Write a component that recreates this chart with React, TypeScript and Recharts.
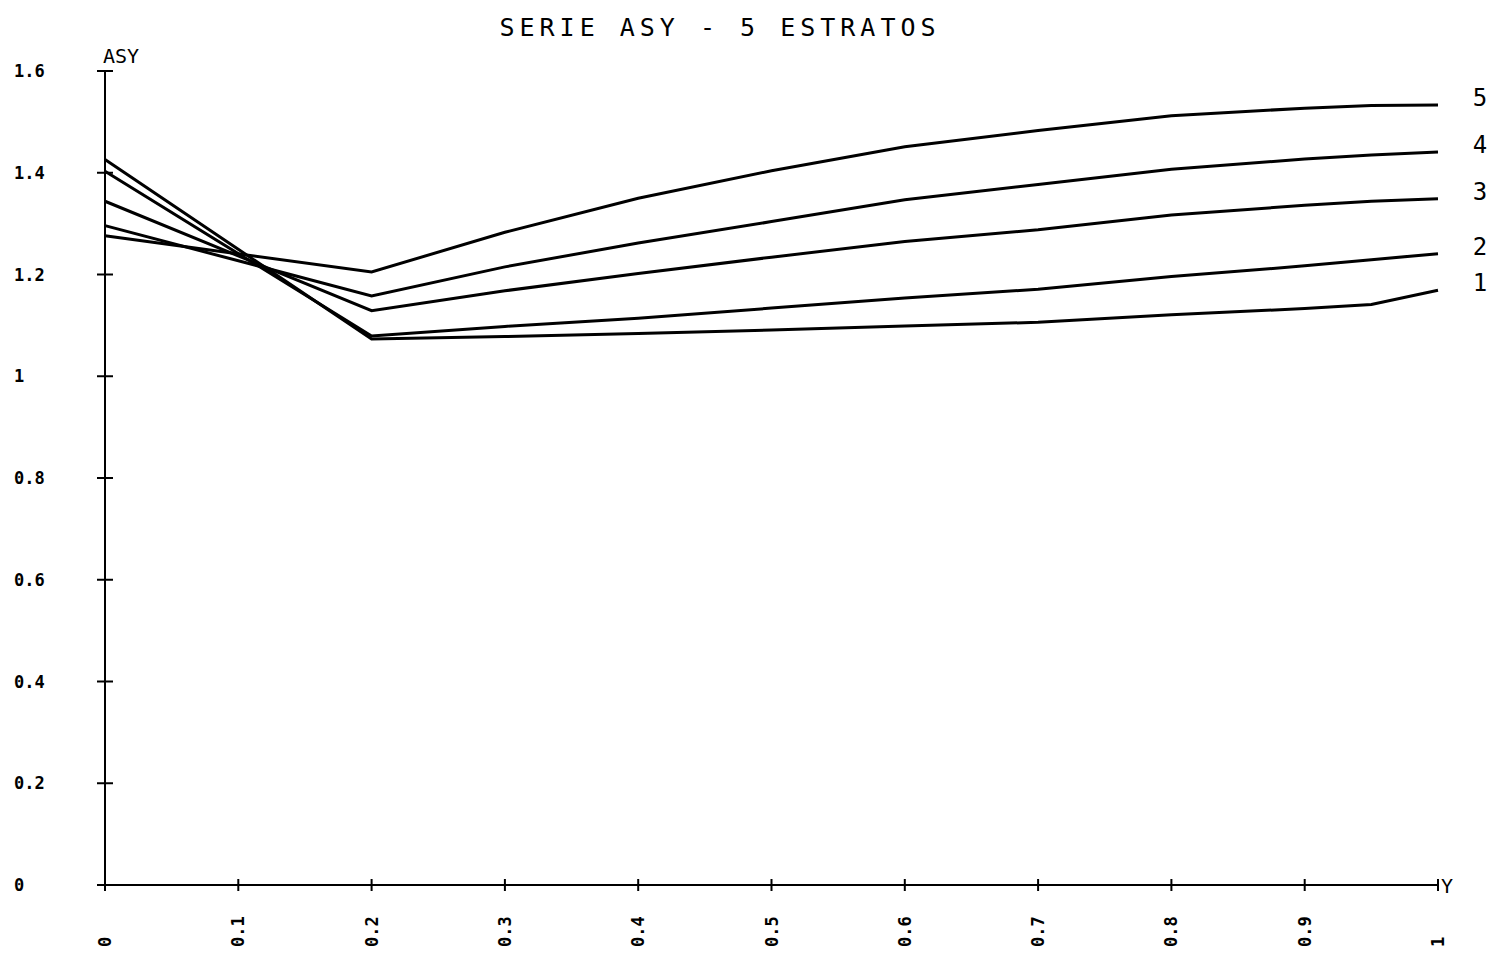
import React from "react";
import {
  LineChart,
  Line,
  XAxis,
  YAxis,
  LabelList,
} from "recharts";

// sampled positions along Y
const yPositions = [0, 0.2, 0.3, 0.4, 0.5, 0.6, 0.7, 0.8, 0.9, 0.95, 1];

// ASY per stratum
const estrato1 = [1.426, 1.073, 1.078, 1.084, 1.091, 1.099, 1.106, 1.121, 1.133, 1.141, 1.169];
const estrato2 = [1.403, 1.079, 1.098, 1.114, 1.134, 1.154, 1.171, 1.196, 1.217, 1.229, 1.241];
const estrato3 = [1.344, 1.129, 1.168, 1.202, 1.234, 1.265, 1.288, 1.317, 1.336, 1.344, 1.349];
const estrato4 = [1.296, 1.158, 1.215, 1.262, 1.304, 1.347, 1.377, 1.407, 1.427, 1.435, 1.441];
const estrato5 = [1.276, 1.205, 1.283, 1.35, 1.404, 1.451, 1.483, 1.512, 1.527, 1.532, 1.533];

const seriesKeys = ["e1", "e2", "e3", "e4", "e5"];
const seriesNames = ["1", "2", "3", "4", "5"];

const xTicks = [0, 0.1, 0.2, 0.3, 0.4, 0.5, 0.6, 0.7, 0.8, 0.9, 1];
const yTicks = [0, 0.2, 0.4, 0.6, 0.8, 1, 1.2, 1.4, 1.6];

const data = yPositions.map((y, i) => ({
  y,
  e1: estrato1[i],
  e2: estrato2[i],
  e3: estrato3[i],
  e4: estrato4[i],
  e5: estrato5[i],
}));

const FONT = "'DejaVu Sans Mono', monospace";
const INK = "#000";

function YTick(props: any) {
  const { x, y, payload } = props;
  return (
    <g>
      <line x1={x - 8} x2={x + 8} y1={y} y2={y} stroke={INK} strokeWidth={2} />
      <text
        x={14}
        y={y}
        dy={6}
        textAnchor="start"
        fontFamily={FONT}
        fontWeight="bold"
        fontSize={17}
        fill={INK}
      >
        {String(payload.value)}
      </text>
    </g>
  );
}

function XTick(props: any) {
  const { x, y, payload } = props;
  const ly = 947;
  return (
    <g>
      <line x1={x} x2={x} y1={y - 6} y2={y + 6} stroke={INK} strokeWidth={2} />
      <text
        x={x}
        y={ly}
        dy={6}
        transform={`rotate(-90, ${x}, ${ly})`}
        textAnchor="start"
        fontFamily={FONT}
        fontWeight="bold"
        fontSize={17}
        fill={INK}
      >
        {String(payload.value)}
      </text>
    </g>
  );
}

function endLabel(name: string) {
  return (props: any) => {
    const { x, y, index } = props;
    if (index !== yPositions.length - 1) return null;
    return (
      <text
        x={x + 42}
        y={y}
        dy={1}
        textAnchor="middle"
        fontFamily={FONT}
        fontSize={24}
        fill={INK}
      >
        {name}
      </text>
    );
  };
}

export default function App() {
  return (
    <div style={{ position: "absolute", left: 0, top: 0, background: "#fff" }}>
      <LineChart
        width={1493}
        height={953}
        data={data}
        margin={{ top: 71, right: 55, bottom: 38, left: 45 }}
      >
        <text
          x={720}
          y={36}
          textAnchor="middle"
          fontFamily={FONT}
          fontSize={25}
          letterSpacing={5}
          fill={INK}
        >
          SERIE ASY - 5 ESTRATOS
        </text>
        <text x={103} y={63} fontFamily={FONT} fontSize={20} fill={INK}>
          ASY
        </text>
        <text x={1441} y={893} fontFamily={FONT} fontSize={20} fill={INK}>
          Y
        </text>
        <XAxis
          dataKey="y"
          type="number"
          domain={[0, 1]}
          ticks={xTicks}
          tickLine={false}
          tickSize={0}
          tickMargin={0}
          height={30}
          axisLine={{ stroke: INK, strokeWidth: 2 }}
          tick={<XTick />}
          interval={0}
        />
        <YAxis
          type="number"
          domain={[0, 1.6]}
          ticks={yTicks}
          tickLine={false}
          tickSize={0}
          tickMargin={0}
          width={60}
          axisLine={{ stroke: INK, strokeWidth: 2 }}
          tick={<YTick />}
          interval={0}
        />
        {seriesKeys.map((k, i) => (
          <Line
            key={k}
            dataKey={k}
            type="linear"
            stroke={INK}
            strokeWidth={3}
            dot={false}
            isAnimationActive={false}
          >
            <LabelList dataKey={k} content={endLabel(seriesNames[i])} />
          </Line>
        ))}
      </LineChart>
    </div>
  );
}
